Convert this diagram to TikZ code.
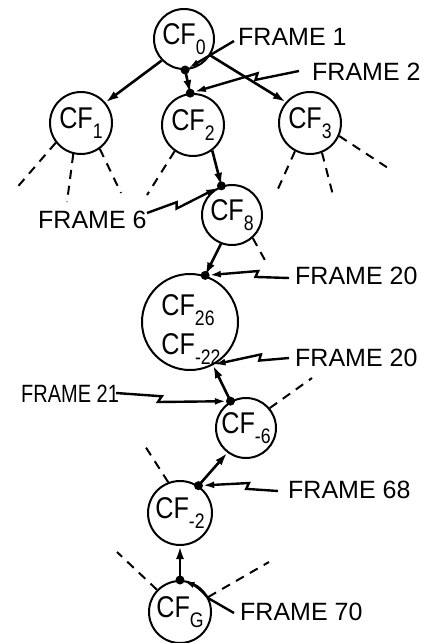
\documentclass[tikz,border=0pt]{standalone}
\usepackage{fontspec}
\setmainfont{Liberation Sans}
\usetikzlibrary{arrows.meta,calc}
% "CF" with a lowered index, set a little narrow
\newcommand\cfsub[1]{\scalebox{0.84}[1]{CF\raisebox{-0.34em}{\fontsize{21}{21}\selectfont #1}}}
\begin{document}
\begin{tikzpicture}[x=1pt,y=-1pt,
  cf/.style={circle,draw,line width=2pt,inner sep=0pt,font=\fontsize{30}{32}\selectfont},
  cftext/.style={inner sep=0pt,font=\fontsize{30}{32}\selectfont},
  link/.style={line width=2.6pt,-{Latex[length=13pt,width=8pt]}},
  hub/.style={circle,fill,inner sep=0pt,minimum size=9pt},
  lbl/.style={anchor=west,inner sep=0pt,font=\fontsize{25}{25}\selectfont},
  bolt/.style={line width=2.4pt,-{Latex[length=11pt,width=7pt]},
    to path={-- ($(\tikztostart)!0.40!(\tikztotarget)$)
             -- ($(\tikztostart)!0.37!(\tikztotarget)!6pt!-90:(\tikztotarget)$)
             -- (\tikztotarget)}},
  spoke/.style={line width=2pt,dash pattern=on 9pt off 7pt}
]
\useasboundingbox (0,0) rectangle (428,643);

% configuration frames
\node[cf,minimum size=60pt] (c0) at (184,39) {\cfsub{0}};
\node[cf,minimum size=62pt] (c1) at (81,123) {\cfsub{1}};
\node[cf,minimum size=62pt] (c2) at (193,125) {\cfsub{2}};
\node[cf,minimum size=62pt] (c3) at (310,123) {\cfsub{3}};
\node[cf,minimum size=60pt] (c8) at (232,215) {\cfsub{8}};
\node[cf,minimum size=96pt] (c26) at (190,322) {};
\node[cftext] (t26) at (188,310) {\cfsub{26}};
\node[cftext] (t22) at (191,349) {\cfsub{-22}};
\node[cf,minimum size=60pt] (c6) at (246,428) {\cfsub{-6}};
\node[cf,minimum size=64pt] (cm2) at (180,513) {\cfsub{-2}};
\node[cf,minimum size=62pt] (cg) at (180,612) {\cfsub{G}};

% unexplored branches
\draw[spoke] (c1.218) -- (14,191);
\draw[spoke] (c1.256) -- (67,202);
\draw[spoke] (c1.306) -- (121,193);
\draw[spoke] (c2.235) -- (147,195);
\draw[spoke] (c3.242) -- (277,191);
\draw[spoke] (c3.292) -- (334,199);
\draw[spoke] (c3.336) -- (388,168);
\draw[spoke] (c8.312) -- (266,262);
\draw[spoke] (c6.40) -- (312,378);
\draw[spoke] (cm2.111) -- (145,446);
\draw[spoke] (cg.136) -- (117,552);
\draw[spoke] (cg.28) -- (269,562);

% search links
\draw[link] (c0.224) -- (c1.40);
\draw[link] (c0.272) -- (c2.95);
\draw[link] (c0.328) -- (c3.139);
\draw[link] (c2.307) -- (c8.110);
\draw[link] (c8.249) -- (c26.72);
\draw[link] (c6.120) -- (c26.298);
\draw[link] (cm2.56) -- (c6.233);
\draw[link] (cg.90) -- (cm2.270);

% contact points
\node[hub] (h0) at (c0.272) {};
\node[hub] (h2) at (c2.95) {};
\node[hub] (h8) at (c8.110) {};
\node[hub] (h26) at (c26.72) {};
\node[hub] (h6) at (c6.120) {};
\node[hub] (hm2) at (cm2.56) {};
\node[hub] (hg) at (cg.90) {};

% frame labels
\node[lbl] (f1) at (238,37) {FRAME 1};
\node[lbl] (f2) at (312,72) {FRAME 2};
\node[lbl] (f6) at (38,220) {FRAME 6};
\node[lbl] (f20a) at (295,276) {FRAME 20};
\node[lbl] (f20b) at (295,358) {FRAME 20};
\node[lbl] (f21) at (21,394) {\scalebox{0.8}[1]{FRAME 21}};
\node[lbl] (f68) at (288,490) {FRAME 68};
\node[lbl] (f70) at (240,612) {FRAME 70};

\coordinate (s1) at (234,41);
\coordinate (s2) at (299,71);
\coordinate (s6) at (147,213);
\coordinate (s20a) at (289,278);
\coordinate (s20b) at (289,358);
\coordinate (s21) at (116,393);
\coordinate (s68) at (278,491);
\coordinate (s70) at (234,613);

\draw[line width=2.4pt,-{Latex[length=10pt,width=6.5pt]}] (s1) -- (h0);
\draw[bolt] (s2) to (h2);
\draw[bolt] (s6) to (h8);
\draw[bolt] (s20a) to (h26);
\draw[bolt] (s20b) to (c26.300);
\draw[bolt] (s21) to (h6);
\draw[bolt] (s68) to (hm2);
\draw[line width=2.4pt,-{Latex[length=10pt,width=6.5pt]}] (s70) -- (208,598) to[bend right=15] (hg);
\end{tikzpicture}
\end{document}
